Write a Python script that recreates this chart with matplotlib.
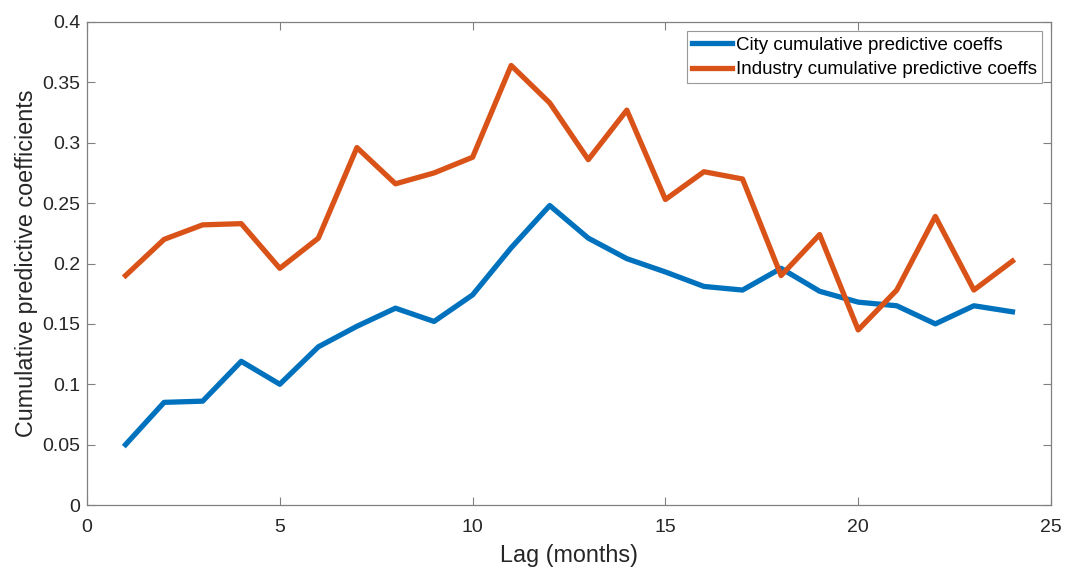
import matplotlib.pyplot as plt

plt.rcParams['font.family'] = ['Liberation Sans', 'DejaVu Sans']

# Lags in months and cumulative predictive coefficients
lags = list(range(1, 25))
city_coeffs = [0.050, 0.085, 0.086, 0.119, 0.100, 0.131, 0.148, 0.163, 0.152, 0.174,
               0.213, 0.248, 0.221, 0.204, 0.193, 0.181, 0.178, 0.196, 0.177, 0.168,
               0.165, 0.150, 0.165, 0.160]
industry_coeffs = [0.190, 0.220, 0.232, 0.233, 0.196, 0.221, 0.296, 0.266, 0.275, 0.288,
                   0.364, 0.333, 0.286, 0.327, 0.253, 0.276, 0.270, 0.190, 0.224, 0.145,
                   0.178, 0.239, 0.178, 0.202]

fig = plt.figure(figsize=(10.69, 5.69), dpi=100)
ax = fig.add_axes([87 / 1069, 1 - 505 / 569, (1051 - 87) / 1069, (505 - 22) / 569])

ax.plot(lags, city_coeffs, color='#0072BD', lw=3.8, label='City cumulative predictive coeffs')
ax.plot(lags, industry_coeffs, color='#D95319', lw=3.8, label='Industry cumulative predictive coeffs')

ax.set_xlim(0, 25)
ax.set_ylim(0, 0.4)
ax.set_xticks([0, 5, 10, 15, 20, 25])
ax.set_yticks([0, 0.05, 0.1, 0.15, 0.2, 0.25, 0.3, 0.35, 0.4])
ax.set_yticklabels(['0', '0.05', '0.1', '0.15', '0.2', '0.25', '0.3', '0.35', '0.4'])

for s in ax.spines.values():
    s.set_color('#808080')
    s.set_linewidth(0.9)
ax.tick_params(direction='in', length=6, width=0.8, color='#808080',
               labelsize=14, labelcolor='#262626', top=True, right=True)
ax.tick_params(axis='x', pad=10)
ax.tick_params(axis='y', pad=5)

ax.set_xlabel('Lag (months)', fontsize=16.8, color='#262626', labelpad=6)
ax.set_ylabel('Cumulative predictive coefficients', fontsize=16.8, color='#262626', labelpad=3)

leg = ax.legend(loc='upper right', fontsize=13.5, frameon=True, fancybox=False,
                borderpad=0.27, handlelength=2.15, handletextpad=0.18,
                labelspacing=0.4, borderaxespad=0.5)
leg.get_frame().set_edgecolor('#808080')
leg.get_frame().set_linewidth(0.8)

fig.savefig('out.png', dpi=100)
